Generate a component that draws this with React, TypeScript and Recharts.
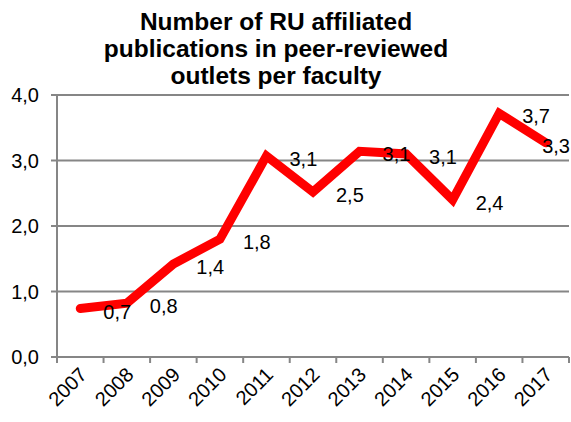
import { CartesianGrid, LabelList, Line, LineChart, XAxis, YAxis } from "recharts";

const years = ["2007", "2008", "2009", "2010", "2011", "2012", "2013", "2014", "2015", "2016", "2017"];
const perFaculty = [0.74, 0.82, 1.42, 1.8, 3.07, 2.52, 3.14, 3.1, 2.4, 3.72, 3.27];
const yTicks = [0, 1, 2, 3, 4];
const titleLines = ["Number of RU affiliated", "publications in peer-reviewed", "outlets per faculty"];

const W = 571;
const H = 422;
const PLOT_LEFT = 57;
const PLOT_RIGHT = 569;
const PLOT_TOP = 95;
const PLOT_BOTTOM = 357;
const BAND = (PLOT_RIGHT - PLOT_LEFT) / years.length;
const GRAY = "#868686";
const FONT = "'Liberation Sans', Arial, sans-serif";
const FS = 20;

const data = years.map((year, i) => ({ year, value: perFaculty[i] }));

const comma = (v: number) => v.toFixed(1).replace(".", ",");

function YearTick(props: any) {
  const { x, y, payload, index } = props;
  const left = x - BAND / 2;
  return (
    <g>
      <line x1={left} y1={y} x2={left} y2={y + 6} stroke={GRAY} strokeWidth={2} />
      {index === years.length - 1 && (
        <line x1={x + BAND / 2} y1={y} x2={x + BAND / 2} y2={y + 6} stroke={GRAY} strokeWidth={2} />
      )}
      <text
        x={x + 3}
        y={y + 14}
        transform={`rotate(-45 ${x + 3} ${y + 14})`}
        textAnchor="end"
        dominantBaseline="central"
        fontSize={FS}
        fontFamily={FONT}
        fill="#000"
      >
        {payload.value}
      </text>
    </g>
  );
}

function ValueLabel(props: any) {
  const { x, y, value } = props;
  let lx = x + 23;
  let anchor: "start" | "end" = "start";
  if (lx + 30 > W) {
    lx = W - 1;
    anchor = "end";
  }
  return (
    <text
      x={lx}
      y={y + 3}
      textAnchor={anchor}
      dominantBaseline="central"
      fontSize={FS}
      fontFamily={FONT}
      fill="#000"
    >
      {comma(value)}
    </text>
  );
}

export default function App() {
  return (
    <div style={{ position: "absolute", left: 0, top: 0, width: W, height: H, background: "#fff" }}>
      <LineChart
        width={W}
        height={H}
        data={data}
        margin={{ top: PLOT_TOP, right: W - PLOT_RIGHT, bottom: 0, left: 0 }}
      >
        <text textAnchor="middle" fontFamily={FONT} fontWeight="bold" fontSize={24.5} fill="#000">
          {titleLines.map((t, i) => (
            <tspan key={i} x={276} y={30 + i * 27}>
              {t}
            </tspan>
          ))}
        </text>
        <CartesianGrid vertical={false} stroke={GRAY} strokeWidth={2} />
        <XAxis
          dataKey="year"
          height={H - PLOT_BOTTOM}
          padding={{ left: BAND / 2, right: BAND / 2 }}
          axisLine={{ stroke: GRAY, strokeWidth: 2 }}
          tickLine={false}
          tickSize={0}
          tickMargin={0}
          interval={0}
          tick={<YearTick />}
        />
        <YAxis
          width={PLOT_LEFT}
          domain={[0, 4]}
          ticks={yTicks}
          tickFormatter={comma}
          axisLine={{ stroke: GRAY, strokeWidth: 2 }}
          tickLine={{ stroke: GRAY, strokeWidth: 2 }}
          tickSize={6}
          tickMargin={12}
          tick={{ fill: "#000", fontSize: FS, fontFamily: FONT }}
        />
        <Line
          type="linear"
          dataKey="value"
          stroke="#ff0000"
          strokeWidth={9}
          strokeLinecap="round"
          strokeLinejoin="miter"
          dot={false}
          isAnimationActive={false}
        >
          <LabelList dataKey="value" content={<ValueLabel />} />
        </Line>
      </LineChart>
    </div>
  );
}
